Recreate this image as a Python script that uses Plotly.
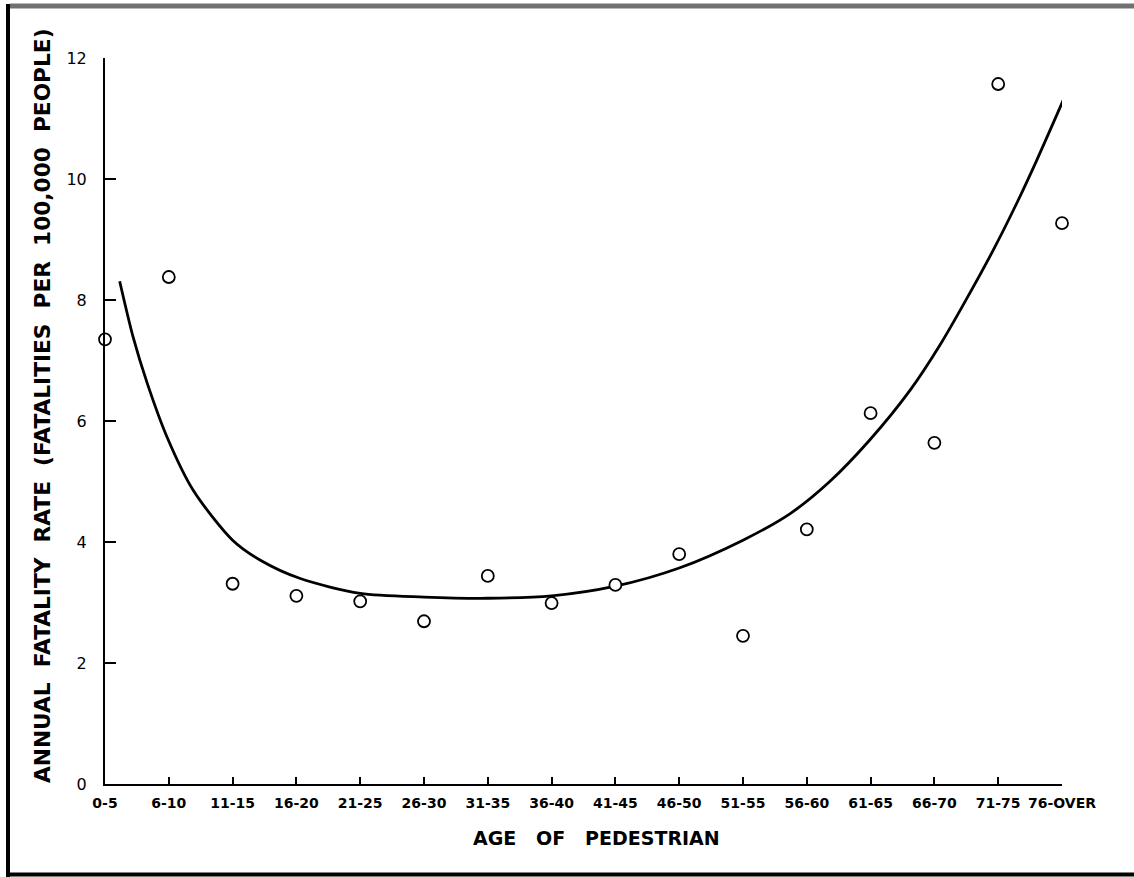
import plotly.graph_objects as go

# ---- data ----
categories = ["0-5", "6-10", "11-15", "16-20", "21-25", "26-30", "31-35", "36-40",
              "41-45", "46-50", "51-55", "56-60", "61-65", "66-70", "71-75", "76-OVER"]
rates = [7.35, 8.38, 3.31, 3.11, 3.02, 2.69, 3.44, 2.99,
         3.29, 3.80, 2.45, 4.21, 6.13, 5.64, 11.57, 9.27]

# fitted curve (position in category units, rate)
curve_x = [0.23, 0.44, 0.66, 0.97, 1.38, 2.0, 2.45, 3.05, 4.0, 5.0, 6.0, 7.0, 8.0,
           9.0, 10.0, 10.74, 11.36, 11.99, 12.62, 13.09, 13.5, 13.92, 14.3, 14.6, 14.86, 15.09]
curve_y = [8.31, 7.39, 6.63, 5.74, 4.86, 4.03, 3.69, 3.40, 3.15, 3.09, 3.07, 3.11, 3.27,
           3.57, 4.03, 4.47, 5.00, 5.69, 6.51, 7.26, 8.01, 8.82, 9.62, 10.30, 10.92, 11.47]

y_ticks = [0, 2, 4, 6, 8, 10, 12]

FONT = "DejaVu Sans"
NB = "\u00a0\u00a0"
ytitle = NB.join(["ANNUAL", "FATALITY", "RATE", "(FATALITIES", "PER", "100,000", "PEOPLE)"])
xtitle = (NB + "\u00a0").join(["AGE", "OF", "PEDESTRIAN"])

fig = go.Figure()
fig.add_trace(go.Scatter(
    x=curve_x, y=curve_y, mode="lines",
    line=dict(color="black", width=2.8, shape="spline", smoothing=0.8),
    hoverinfo="skip", cliponaxis=False, showlegend=False))
fig.add_trace(go.Scatter(
    x=list(range(len(categories))), y=rates, mode="markers",
    marker=dict(symbol="circle", size=12, color="white",
                line=dict(color="black", width=1.8)),
    cliponaxis=False, showlegend=False))

W, H = 1134, 877
L, R, T, B = 105, 72, 58, 93
pw, ph = W - L - R, H - T - B

def px(xp):
    return (xp - L) / pw

def py(yp):
    return (H - B - yp) / ph

fig.update_layout(
    width=W, height=H,
    margin=dict(l=L, r=R, t=T, b=B),
    paper_bgcolor="white", plot_bgcolor="white",
    font=dict(family=FONT, color="black"),
    xaxis=dict(range=[0, 15], tickvals=list(range(len(categories))), ticktext=categories,
               showgrid=False, zeroline=False, showline=True, linecolor="black", linewidth=2,
               ticks="inside", ticklen=7, tickwidth=2, tickcolor="black",
               tickfont=dict(family=FONT, size=14, color="black", weight="bold"),
               ticklabelstandoff=5),
    yaxis=dict(range=[0, 12], tickvals=y_ticks, showgrid=False, zeroline=False,
               showline=True, linecolor="black", linewidth=2,
               ticks="inside", ticklen=11, tickwidth=2, tickcolor="black",
               tickfont=dict(family=FONT, size=16, color="black"),
               ticklabelstandoff=13),
    annotations=[
        dict(text=ytitle, xref="paper", yref="paper", x=px(43), y=py(406),
             xanchor="center", yanchor="middle", textangle=-90, showarrow=False,
             font=dict(family=FONT, size=21.7, color="black", weight="bold")),
        dict(text=xtitle, xref="paper", yref="paper", x=px(596), y=py(838),
             xanchor="center", yanchor="middle", showarrow=False,
             font=dict(family=FONT, size=19, color="black", weight="bold")),
    ],
    shapes=[
        dict(type="line", xref="paper", yref="paper", x0=px(8), x1=px(8), y0=py(4), y1=py(877),
             line=dict(color="black", width=4)),
        dict(type="line", xref="paper", yref="paper", x0=px(6), x1=px(1134), y0=py(874.5), y1=py(874.5),
             line=dict(color="black", width=4)),
        dict(type="line", xref="paper", yref="paper", x0=px(10), x1=px(1134), y0=py(6), y1=py(6),
             line=dict(color="#707070", width=5)),
    ],
)

fig.write_html("out.html")
